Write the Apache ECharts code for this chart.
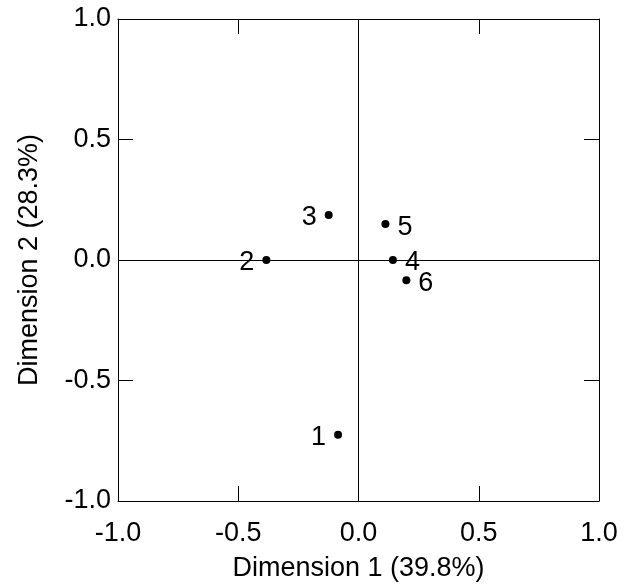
<!DOCTYPE html>
<html><head><meta charset="utf-8">
<script src="https://cdn.jsdelivr.net/npm/echarts@6/dist/echarts.min.js"></script>
<style>html,body{margin:0;padding:0;background:#fff}#c{width:626px;height:588px}</style>
</head><body><div id="c"></div>
<script>
const pointLabels = ['1','2','3','4','5','6'];
const dim1 = [-0.085, -0.383, -0.124, 0.143, 0.112, 0.199];
const dim2 = [-0.725, 0.0, 0.187, 0.0, 0.149, -0.084];
const labelSide = ['left','left','left','right','right','right'];
const axisMin = -1.0, axisMax = 1.0, axisStep = 0.5;
const xTitle = 'Dimension 1 (39.8%)';
const yTitle = 'Dimension 2 (28.3%)';

const FONT = 'Liberation Sans, Arial, sans-serif';
const chart = echarts.init(document.getElementById('c'), null, {renderer:'canvas'});
const baseAxis = {
  type:'value', min:axisMin, max:axisMax, interval:axisStep,
  axisLine:{show:true, onZero:false, lineStyle:{color:'#000', width:1}},
  axisTick:{show:true, inside:true, length:15, lineStyle:{color:'#000', width:1}},
  splitLine:{show:false},
};
const data = dim1.map((x,i)=>({
  value:[x, dim2[i]],
  name: pointLabels[i],
  label:{position:labelSide[i]}
}));
chart.setOption({
  animation:false,
  backgroundColor:'#fff',
  grid:{left:118, top:19, right:27, bottom:87, outerBoundsMode:'none', containLabel:false},
  xAxis:[
    Object.assign({}, baseAxis, {position:'bottom',
      name:xTitle, nameLocation:'middle', nameGap:54,
      nameTextStyle:{fontFamily:FONT, fontSize:27, color:'#000'},
      axisLabel:{show:true, margin:19, fontFamily:FONT, fontSize:27, color:'#000', formatter:v=>v.toFixed(1)}}),
    Object.assign({}, baseAxis, {position:'top', axisLabel:{show:false}})
  ],
  yAxis:[
    Object.assign({}, baseAxis, {position:'left',
      name:yTitle, nameLocation:'middle', nameGap:75,
      nameTextStyle:{fontFamily:FONT, fontSize:27, color:'#000'},
      axisLabel:{show:true, margin:7, fontFamily:FONT, fontSize:27, color:'#000', formatter:v=>v.toFixed(1)}}),
    Object.assign({}, baseAxis, {position:'right', axisLabel:{show:false}})
  ],
  series:[{
    type:'scatter', xAxisIndex:0, yAxisIndex:0,
    symbol:'circle', symbolSize:8,
    itemStyle:{color:'#000', opacity:1},
    label:{show:true, formatter:p=>p.name, distance:8, offset:[0,3],
      fontFamily:FONT, fontSize:27, color:'#000', textBorderWidth:0},
    data:data,
    markLine:{silent:true, symbol:['none','none'], label:{show:false},
      lineStyle:{color:'#000', width:1, type:'solid', opacity:1},
      data:[{xAxis:0},{yAxis:0}]}
  }]
});
</script></body></html>
